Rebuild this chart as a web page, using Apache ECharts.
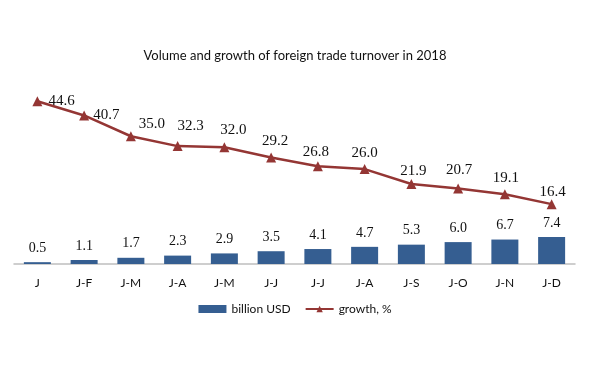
<!DOCTYPE html>
<html><head><meta charset="utf-8">
<script src="https://cdn.jsdelivr.net/npm/echarts@6/dist/echarts.min.js"></script>
<style>html,body{margin:0;padding:0;background:#fff}#c{width:590px;height:370px}</style>
</head><body><div id="c"></div>
<script>
const categories = ['J','J-F','J-M','J-A','J-M','J-J','J-J','J-A','J-S','J-O','J-N','J-D'];
const volume = [0.5,1.1,1.7,2.3,2.9,3.5,4.1,4.7,5.3,6.0,6.7,7.4];
const growth = [44.6,40.7,35.0,32.3,32.0,29.2,26.8,26.0,21.9,20.7,19.1,16.4];
const lineLabelOffsets = [[0,0],[0,0],[21,5],[13,-3],[9,0],[4,1],[-2,3],[0,1],[2,4],[1,-1],[1,1],[1,5]];

const chart = echarts.init(document.getElementById('c'));
chart.setOption({
  animation:false,
  title:{text:'Volume and growth of foreign trade turnover in 2018',left:'center',top:44,
    textStyle:{fontFamily:'Lato',fontSize:13,fontWeight:'normal',color:'#111'}},
  grid:{left:14,right:15,top:81.5,bottom:106},
  legend:{bottom:50,left:'center',itemWidth:28,itemHeight:8,itemGap:14,
    textStyle:{fontFamily:'Lato',fontSize:12,color:'#111'},
    data:[{name:'billion USD',icon:'rect'},{name:'growth, %'}]},
  xAxis:{type:'category',data:categories,
    axisLine:{lineStyle:{color:'#BFBFBF',width:1.5}},axisTick:{show:false},
    axisLabel:{fontFamily:'Lato',fontSize:12,color:'#111',margin:13}},
  yAxis:{type:'value',min:0,max:50,show:false,splitLine:{show:false}},
  series:[
    {name:'billion USD',type:'bar',data:volume,barWidth:27,
     itemStyle:{color:'#355E91'},
     label:{show:true,position:'top',distance:7,fontFamily:'Liberation Serif',fontSize:14,color:'#111',
       formatter:p=>p.value.toFixed(1)}},
    {name:'growth, %',type:'line',symbol:'triangle',symbolSize:10,
     lineStyle:{color:'#943634',width:2.5},itemStyle:{color:'#943634'},
     data:growth.map((v,i)=>({value:v,label:i<2?{position:'right',distance:i===0?6:4}:{position:'top',distance:5,offset:lineLabelOffsets[i]}})),
     label:{show:true,fontFamily:'Liberation Serif',fontSize:15,color:'#111',formatter:p=>p.value.toFixed(1)}}
  ]
});
</script></body></html>
